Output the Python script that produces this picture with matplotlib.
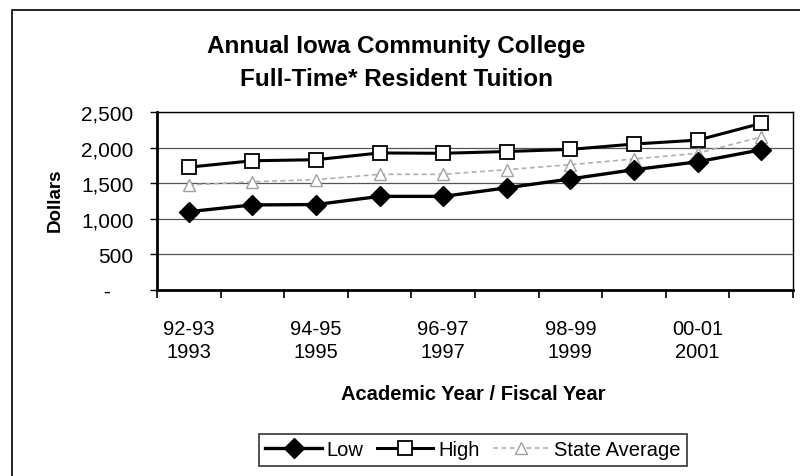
import matplotlib
matplotlib.use("Agg")
import matplotlib.pyplot as plt
from matplotlib.patches import Rectangle
from matplotlib.ticker import FixedLocator, FuncFormatter

plt.rcParams['font.family'] = ['Liberation Sans', 'DejaVu Sans']

years = ["1993", "1994", "1995", "1996", "1997", "1998", "1999", "2000", "2001", "2002"]
academic = ["92-93", "93-94", "94-95", "95-96", "96-97", "97-98", "98-99", "99-00", "00-01", "01-02"]
low = [1100, 1195, 1200, 1315, 1315, 1435, 1560, 1690, 1800, 1970]
high = [1725, 1815, 1830, 1925, 1920, 1945, 1975, 2050, 2105, 2340]
state_avg = [1475, 1520, 1550, 1625, 1625, 1690, 1760, 1840, 1920, 2150]
yticks = [0, 500, 1000, 1500, 2000, 2500]

fig = plt.figure(figsize=(8.0, 4.77), dpi=100)
# outer chart border
fig.patches.append(Rectangle((12/800, -0.05), 1.2, 1 - 11/477 + 0.05,
                             transform=fig.transFigure, fill=False,
                             edgecolor='black', linewidth=1.2))

ax = fig.add_axes([157/800, 1 - 291/477, 636/800, 178/477])
x = list(range(len(years)))

ax.plot(x, state_avg, color='#b0b0b0', linestyle=(0, (3, 2)), linewidth=1.2,
        marker='^', markersize=8, markerfacecolor='white',
        markeredgecolor='#a0a0a0', label='State Average', zorder=3)
ax.plot(x, high, color='black', linewidth=2.2, marker='s', markersize=10,
        markerfacecolor='white', markeredgecolor='black', markeredgewidth=1.3,
        label='High', zorder=4)
ax.plot(x, low, color='black', linewidth=2.4, marker='D', markersize=10,
        markerfacecolor='black', markeredgecolor='black', label='Low', zorder=5)

ax.set_xlim(-0.5, len(years) - 0.5)
ax.set_ylim(0, 2500)
ax.yaxis.set_major_locator(FixedLocator(yticks))
ax.yaxis.set_major_formatter(FuncFormatter(lambda v, p: '-    ' if v == 0 else f'{int(v):,}'))
ax.grid(axis='y', color='#555555', linewidth=0.9)
ax.set_axisbelow(True)

# minor ticks at category boundaries, labels every other category
ax.xaxis.set_minor_locator(FixedLocator([i - 0.5 for i in range(len(years) + 1)]))
label_pos = [i for i in x if i % 2 == 0]
ax.xaxis.set_major_locator(FixedLocator(label_pos))
ax.set_xticklabels([f"{academic[i]}\n{years[i]}" for i in label_pos],
                   fontsize=14.5, linespacing=1.25)
ax.tick_params(axis='x', which='major', length=0, pad=21)
ax.tick_params(axis='x', which='minor', length=6, width=1.2, direction='out')
ax.tick_params(axis='y', length=5, width=1, labelsize=15, pad=12)

for s in ['left', 'bottom']:
    ax.spines[s].set_linewidth(2)
for s in ['top', 'right']:
    ax.spines[s].set_linewidth(1)

fig.text(0.495, 1 - 47/477, "Annual Iowa Community College", ha='center', va='center',
         fontsize=17.5, fontweight='bold')
fig.text(0.495, 1 - 79/477, "Full-Time* Resident Tuition", ha='center', va='center',
         fontsize=17.5, fontweight='bold')
fig.text(55/800, 1 - 200/477, "Dollars", rotation=90, ha='center', va='center',
         fontsize=13.5, fontweight='bold')
fig.text(473/800, 1 - 395/477, "Academic Year / Fiscal Year", ha='center', va='center',
         fontsize=14.5, fontweight='bold')

handles, labels = ax.get_legend_handles_labels()
order = [2, 1, 0]
leg = fig.legend([handles[i] for i in order], [labels[i] for i in order],
                 loc='center', bbox_to_anchor=(473/800, 1 - 451/477), ncol=3,
                 fontsize=14.5, frameon=True, fancybox=False, handlelength=2.8,
                 handletextpad=0.25, columnspacing=0.65, borderpad=0.3,
                 borderaxespad=0)
leg.get_frame().set_edgecolor('black')
leg.get_frame().set_linewidth(1.2)

fig.savefig("out.png", dpi=100)
